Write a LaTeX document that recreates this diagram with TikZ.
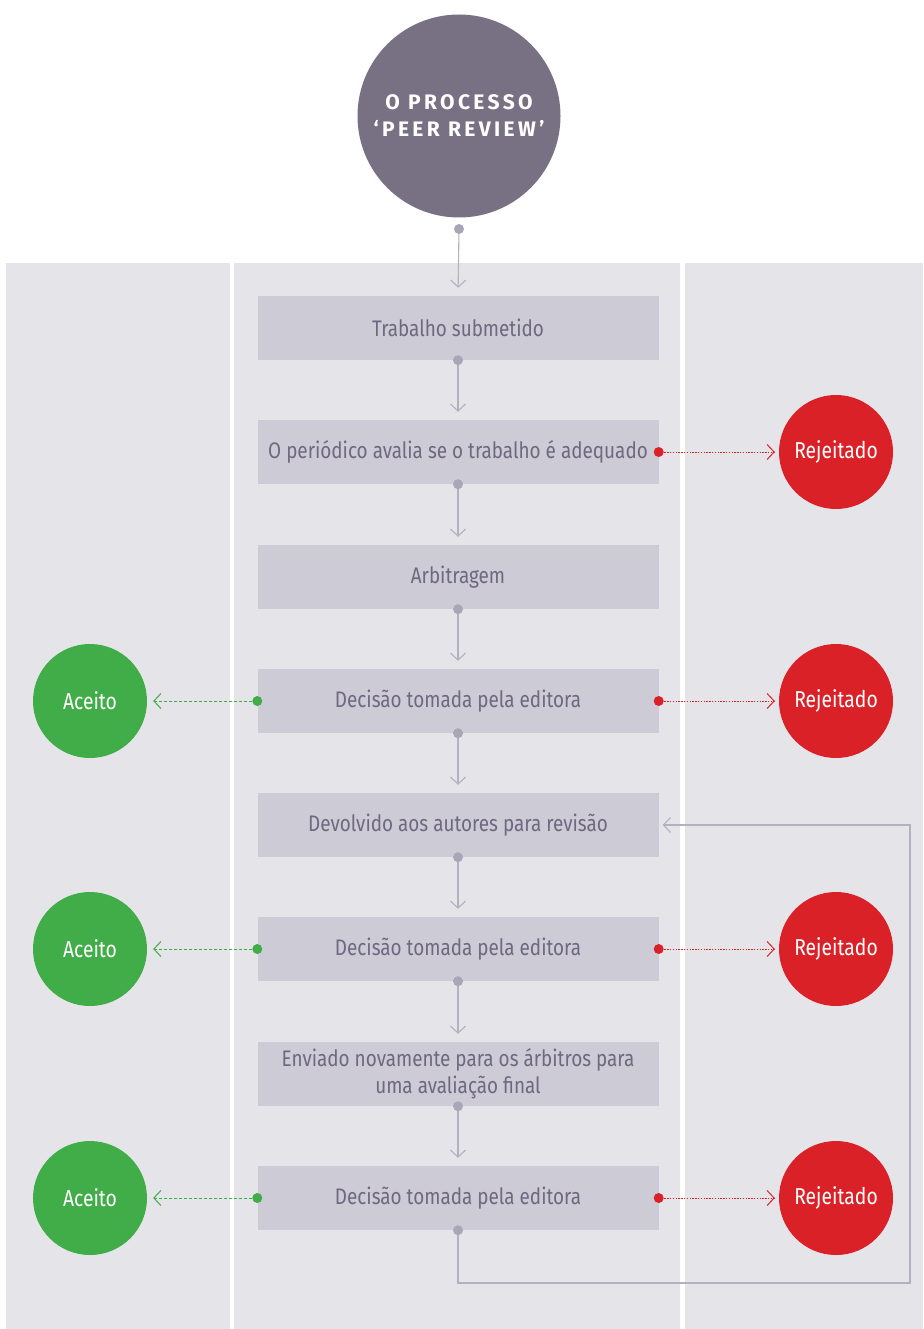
\documentclass[tikz,border=0pt]{standalone}
\usepackage{fontspec}
\setmainfont[FakeStretch=0.84]{Fira Sans}
\newfontfamily\titlefont[LetterSpace=16]{Fira Sans}
\usetikzlibrary{arrows.meta}

\definecolor{panel}{HTML}{E5E4E9}
\definecolor{stepfill}{HTML}{CDCBD5}
\definecolor{steptext}{HTML}{6E6880}
\definecolor{flowgrey}{HTML}{B3B1C1}
\definecolor{dotgrey}{HTML}{A9A6B8}
\definecolor{titlepurple}{HTML}{787083}
\definecolor{rejred}{HTML}{DA2128}
\definecolor{accgreen}{HTML}{41AD49}

\tikzset{
  stepbox/.style={fill=stepfill, text=steptext, minimum width=401pt, minimum height=64pt,
    inner sep=0pt, align=center, font=\fontsize{22.5}{27}\selectfont},
  outcome/.style={circle, minimum size=114pt, inner sep=0pt, text=white,
    font=\fontsize{23}{27}\selectfont},
  flow/.style={draw=flowgrey, line width=1.1pt},
  redflow/.style={draw=rejred, line width=1pt, dash pattern=on 1.4pt off 1.4pt},
  greenflow/.style={draw=accgreen, line width=1pt, dash pattern=on 3pt off 2pt}
}

\begin{document}
\begin{tikzpicture}[x=1pt, y=-1pt, >={Straight Barb[length=7pt,width=15pt]}]
        \useasboundingbox (0,0) rectangle (923,1329);
        \fill[white] (0,0) rectangle (923,1329);
        % three columns
        \fill[panel] (6,263) rectangle (230,1329);
        \fill[panel] (234,263) rectangle (680,1329);
        \fill[panel] (685,263) rectangle (923,1329);
        % title
        \node [circle, fill=titlepurple, minimum size=203pt, inner sep=0pt, align=center,
          text=white, font=\titlefont\fontsize{21}{27}\selectfont\bfseries] (title) at (459,116)
          {O PROCESSO\\‘PEER REVIEW’};
        \coordinate (title-dot) at (459,229);
        % steps
        \foreach \y/\t [count=\i] in {328/Trabalho submetido,
            452/O periódico avalia se o trabalho é adequado,
            577/Arbitragem,
            701/Decisão tomada pela editora,
            825/Devolvido aos autores para revisão,
            949/Decisão tomada pela editora,
            1074/{Enviado novamente para os árbitros para\\uma avaliação final},
            1198/Decisão tomada pela editora}
          \node [stepbox] (step-\i) at (458,\y) {\t};
        % arrows down
        \draw [flow, ->, shorten >=8pt] (title-dot) -- (step-1.north);
        \fill [dotgrey] (title-dot) circle (5pt);
        \foreach \i [evaluate=\i as \j using int(\i+1)] in {1,...,7} {
          \draw [flow, ->, shorten >=8pt] (step-\i.south) -- (step-\j.north);
          \fill [dotgrey] (step-\i.south) circle (5pt);
        }
        % back to revision
        \coordinate (loop-right) at (910,1283);
        \draw [flow, ->, shorten >=4pt] (step-8.south) |- (loop-right) |- (step-5.east);
        \fill [dotgrey] (step-8.south) circle (5pt);
        % outcomes
        \coordinate (rej-col) at (836,0);
        \coordinate (acc-col) at (90,0);
        \foreach \s [count=\k] in {2,4,6,8} {
          \node [outcome, fill=rejred] (rej-\k) at (step-\s -| rej-col) {Rejeitado};
          \draw [redflow, ->, shorten >=4pt] (step-\s.east) -- (rej-\k.west);
          \fill [rejred] (step-\s.east) circle (5pt);
        }
        \foreach \s [count=\k] in {4,6,8} {
          \node [outcome, fill=accgreen] (acc-\k) at (step-\s -| acc-col) {Aceito};
          \draw [greenflow, ->, shorten >=6pt] (step-\s.west) -- (acc-\k.east);
          \fill [accgreen] (step-\s.west) circle (5pt);
        }
    \end{tikzpicture}
\end{document}
